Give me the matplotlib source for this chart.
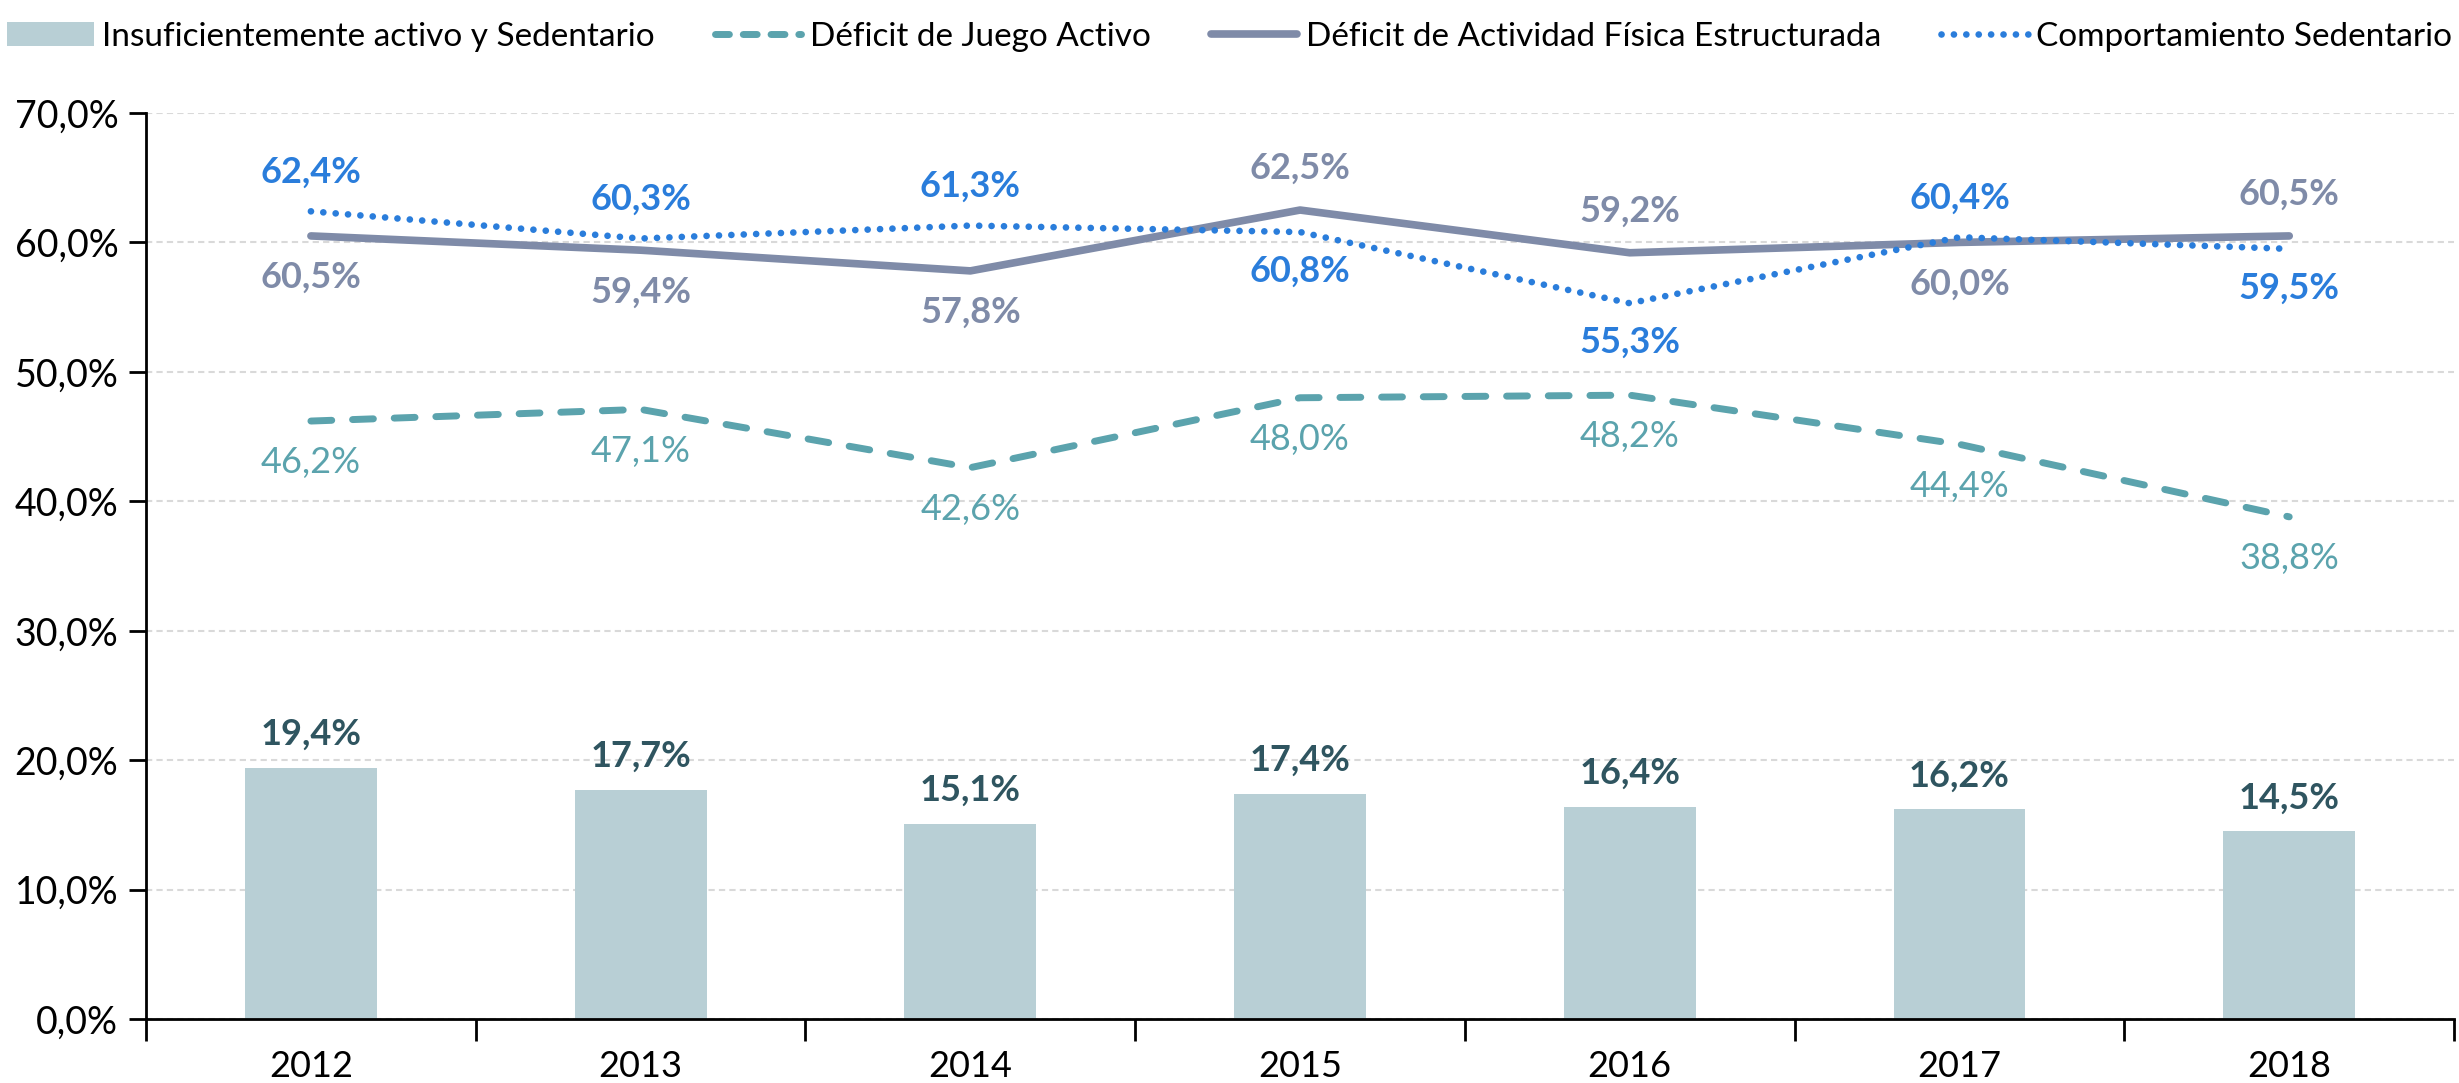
import matplotlib
matplotlib.use("Agg")
import matplotlib.pyplot as plt
from matplotlib.patches import Patch
from matplotlib.lines import Line2D

years = ["2012", "2013", "2014", "2015", "2016", "2017", "2018"]
insuf_sed = [19.4, 17.7, 15.1, 17.4, 16.4, 16.2, 14.5]
deficit_juego = [46.2, 47.1, 42.6, 48.0, 48.2, 44.4, 38.8]
deficit_af = [60.5, 59.4, 57.8, 62.5, 59.2, 60.0, 60.5]
comp_sed = [62.4, 60.3, 61.3, 60.8, 55.3, 60.4, 59.5]
y_ticks = [0, 10, 20, 30, 40, 50, 60, 70]

plt.rcParams['font.family'] = ["Lato", "DejaVu Sans"]

C_BAR = "#B8CFD5"
C_TEAL = "#5BA3AD"
C_GREY = "#7F8BA8"
C_BLUE = "#2A7DDB"
C_BARLBL = "#2F5560"

fig = plt.figure(figsize=(24.59, 10.83), dpi=100)
ax = fig.add_axes([0.0594, 0.059, 0.9386, 0.8367])
x = list(range(len(years)))

ax.bar(x, insuf_sed, width=0.4, color=C_BAR, zorder=2)
ax.plot(x, deficit_juego, color=C_TEAL, lw=5, dashes=(3, 3), dash_capstyle='round', zorder=3)
ax.plot(x, deficit_af, color=C_GREY, lw=5.5, solid_capstyle='round', zorder=3)
ax.plot(x, comp_sed, color=C_BLUE, lw=4.8, dashes=(0.01, 1.85), dash_capstyle='round', zorder=4)

def fmt(v):
    return f"{v:.1f}%".replace(".", ",")

fs_lbl = 26
for i in x:
    ax.annotate(fmt(insuf_sed[i]), (i, insuf_sed[i]), xytext=(0, 24), textcoords='offset points',
                ha='center', va='center', fontsize=fs_lbl, fontweight='bold', color=C_BARLBL)
    ax.annotate(fmt(deficit_juego[i]), (i, deficit_juego[i]), xytext=(0, -30), textcoords='offset points',
                ha='center', va='center', fontsize=fs_lbl, color=C_TEAL)
    blue_up = comp_sed[i] >= deficit_af[i]
    ax.annotate(fmt(comp_sed[i]), (i, comp_sed[i]), xytext=(0, 28 if blue_up else -28), textcoords='offset points',
                ha='center', va='center', fontsize=fs_lbl, fontweight='bold', color=C_BLUE)
    ax.annotate(fmt(deficit_af[i]), (i, deficit_af[i]), xytext=(0, -30 if blue_up else 30), textcoords='offset points',
                ha='center', va='center', fontsize=fs_lbl, fontweight='bold', color=C_GREY)

ax.set_xlim(-0.5, len(years) - 0.5)
ax.set_ylim(0, 70)
ax.set_yticks(y_ticks)
ax.set_yticklabels([fmt(v) for v in y_ticks], fontsize=27)
ax.yaxis.grid(True, color="#D9D9D9", lw=1.5, ls=(0, (3, 2)), zorder=0)
ax.set_axisbelow(True)
ax.set_xticks([i - 0.5 for i in range(len(years) + 1)])
ax.set_xticklabels([])
ax.set_xticks(x, minor=True)
ax.set_xticklabels(years, minor=True, fontsize=26)
ax.tick_params(axis='x', which='major', length=16, width=2, direction='out')
ax.tick_params(axis='x', which='minor', length=0, pad=22)
ax.tick_params(axis='y', length=12, width=2, pad=8)
for s in ['top', 'right']:
    ax.spines[s].set_visible(False)
ax.spines['left'].set_linewidth(2)
ax.spines['bottom'].set_linewidth(2)

handles = [
    Patch(facecolor=C_BAR, edgecolor='none'),
    Line2D([], [], color=C_TEAL, lw=5, dashes=(2, 2), dash_capstyle='round'),
    Line2D([], [], color=C_GREY, lw=5.5, solid_capstyle='round'),
    Line2D([], [], color=C_BLUE, lw=4.8, dashes=(0.01, 1.85), dash_capstyle='round'),
]
labels = ["Insuficientemente activo y Sedentario", "Déficit de Juego Activo",
          "Déficit de Actividad Física Estructurada", "Comportamiento Sedentario"]
fig.legend(handles, labels, loc='upper center', bbox_to_anchor=(0.5, 1.0), ncol=4, frameon=False,
           fontsize=24, handlelength=2.6, handletextpad=0.25, columnspacing=1.8, borderaxespad=0.25)

fig.savefig("out.png", dpi=100)
